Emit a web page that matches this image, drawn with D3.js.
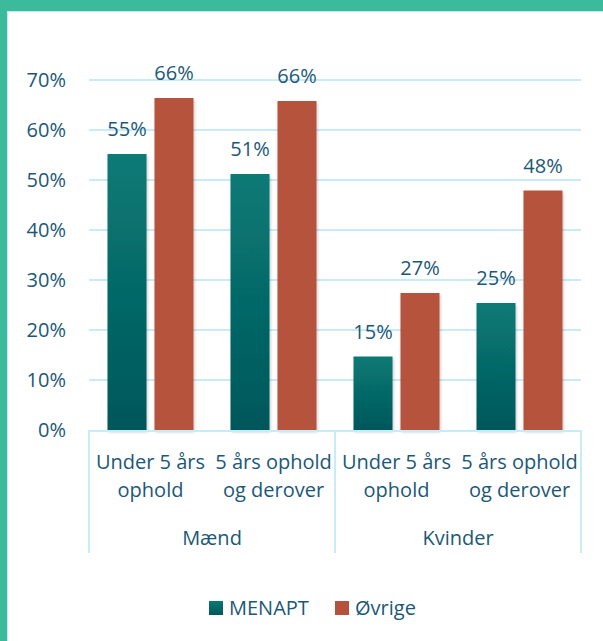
<!DOCTYPE html>
<html>
<head>
<meta charset="utf-8">
<script src="https://cdn.jsdelivr.net/npm/d3@7"></script>
<style>
  html, body { margin: 0; padding: 0; background: #fff; }
  svg { display: block; font-family: "Open Sans", sans-serif; }
</style>
</head>
<body>
<svg id="chart" width="603" height="641"></svg>
<script>
// data
var groups = ["Mænd", "Kvinder"];
var subLabels = [["Under 5 års", "ophold"], ["5 års ophold", "og derover"]];
var series = ["MENAPT", "Øvrige"];
var menapt = [55.2, 51.2, 14.7, 25.4];
var ovrige = [66.4, 65.8, 27.4, 47.9];
var yTicks = [0, 10, 20, 30, 40, 50, 60, 70];

var textColor = "#1b5877";
var gridColor = "#c9ebf7";
var red = "#b5523d";
var fs = 20;

var svg = d3.select("#chart");

// frame
svg.append("rect").attr("x", 0).attr("y", 0).attr("width", 603).attr("height", 11).attr("fill", "#3bbb9b");
svg.append("rect").attr("x", 0).attr("y", 0).attr("width", 7).attr("height", 641).attr("fill", "#3bbb9b");
svg.append("line").attr("x1", 7.5).attr("x2", 7.5).attr("y1", 11).attr("y2", 641).attr("stroke", "#bfe9f5").attr("stroke-width", 1);
svg.append("line").attr("x1", 7).attr("x2", 603).attr("y1", 11.5).attr("y2", 11.5).attr("stroke", "#bfe9f5").attr("stroke-width", 1);

var defs = svg.append("defs");
var grad = defs.append("linearGradient").attr("id", "tealGrad").attr("x1", 0).attr("y1", 0).attr("x2", 0).attr("y2", 1);
grad.append("stop").attr("offset", "0%").attr("stop-color", "#087a75");
grad.append("stop").attr("offset", "100%").attr("stop-color", "#04575a");

var shadow = defs.append("filter").attr("id", "shadow").attr("x", "-20%").attr("y", "-5%").attr("width", "150%").attr("height", "115%");
shadow.append("feDropShadow").attr("dx", 1).attr("dy", 2).attr("stdDeviation", 1.5).attr("flood-color", "#000").attr("flood-opacity", 0.22);

var cats = d3.range(menapt.length);
var x0 = d3.scaleBand().domain(cats).range([89, 581]).padding(0);
var x1 = d3.scaleBand().domain(series).range([0, x0.bandwidth()]).paddingInner(0.17).paddingOuter(0.394);
var y = d3.scaleLinear().domain([0, 70]).range([430, 80]);

// grid
svg.append("g").selectAll("line").data(yTicks.slice(1)).enter().append("line")
  .attr("x1", 89).attr("x2", 581)
  .attr("y1", function(d) { return y(d); }).attr("y2", function(d) { return y(d); })
  .attr("stroke", gridColor).attr("stroke-width", 2);

// y axis labels
var yAxis = d3.axisLeft(y).tickValues(yTicks).tickSize(0).tickPadding(23)
  .tickFormat(function(d) { return d + "%"; });
var yg = svg.append("g").attr("transform", "translate(89,0)").call(yAxis);
yg.select(".domain").remove();
yg.selectAll("text").attr("fill", textColor).attr("font-size", fs).attr("font-family", "Open Sans, sans-serif");

// bars
var rows = cats.map(function(i) {
  return { i: i, values: [{ s: "MENAPT", v: menapt[i] }, { s: "Øvrige", v: ovrige[i] }] };
});
var cg = svg.append("g").selectAll("g").data(rows).enter().append("g")
  .attr("transform", function(d) { return "translate(" + x0(d.i) + ",0)"; });

cg.selectAll("rect").data(function(d) { return d.values; }).enter().append("rect")
  .attr("x", function(d) { return x1(d.s); })
  .attr("y", function(d) { return y(d.v); })
  .attr("width", x1.bandwidth())
  .attr("height", function(d) { return y(0) - y(d.v); })
  .attr("fill", function(d) { return d.s === "MENAPT" ? "url(#tealGrad)" : red; })
  .attr("filter", "url(#shadow)");

cg.selectAll("text").data(function(d) { return d.values; }).enter().append("text")
  .attr("x", function(d) { return x1(d.s) + x1.bandwidth() / 2; })
  .attr("y", function(d) { return y(d.v) - 18; })
  .attr("text-anchor", "middle")
  .attr("fill", textColor).attr("font-size", fs)
  .text(function(d) { return Math.round(d.v) + "%"; });

// category axis
var ax = svg.append("g");
ax.append("line").attr("x1", 89).attr("x2", 581).attr("y1", 431).attr("y2", 431)
  .attr("stroke", gridColor).attr("stroke-width", 2);
var groupEdges = [0, 2, 4].map(function(i) { return i < 4 ? x0(i) : x0(3) + x0.bandwidth(); });
ax.selectAll(".sep").data(groupEdges).enter().append("line")
  .attr("x1", function(d) { return d; }).attr("x2", function(d) { return d; })
  .attr("y1", 430).attr("y2", 553)
  .attr("stroke", gridColor).attr("stroke-width", 2);

cats.forEach(function(i) {
  var lines = subLabels[i % 2];
  var t = ax.append("text")
    .attr("x", x0(i) + x0.bandwidth() / 2)
    .attr("y", 469)
    .attr("text-anchor", "middle")
    .attr("fill", textColor).attr("font-size", fs);
  lines.forEach(function(l, k) {
    t.append("tspan").attr("x", x0(i) + x0.bandwidth() / 2).attr("dy", k === 0 ? 0 : 28).text(l);
  });
});

groups.forEach(function(g, k) {
  ax.append("text")
    .attr("x", (x0(k * 2) + x0(k * 2 + 1) + x0.bandwidth()) / 2)
    .attr("y", 545)
    .attr("text-anchor", "middle")
    .attr("fill", textColor).attr("font-size", fs)
    .text(g);
});

// legend
var legend = svg.append("g");
var legendX = [209, 335];
series.forEach(function(s, k) {
  legend.append("rect").attr("x", legendX[k]).attr("y", 601).attr("width", 14).attr("height", 14)
    .attr("fill", k === 0 ? "url(#tealGrad)" : red);
  legend.append("text").attr("x", legendX[k] + 20).attr("y", 615)
    .attr("fill", textColor).attr("font-size", fs).text(s);
});
</script>
</body>
</html>
